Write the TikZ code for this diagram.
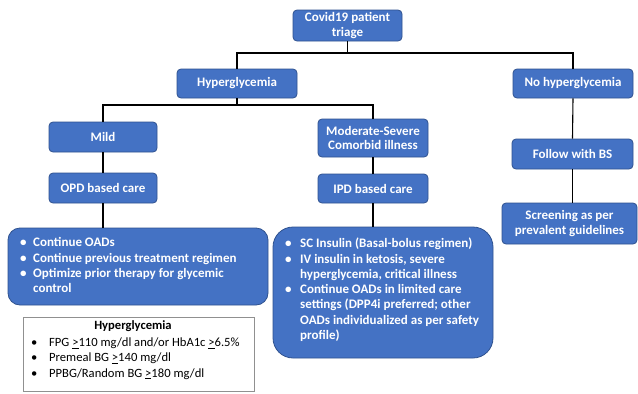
\documentclass[tikz,border=0pt]{standalone}
\usepackage{fontspec}
\setmainfont{Carlito}[BoldFont={Carlito Bold}]
\definecolor{boxblue}{HTML}{4472C4}
\definecolor{boxedge}{HTML}{2F528F}
\definecolor{legedge}{HTML}{909090}
\newcommand\bitem[1]{\makebox[#1][l]{\textbullet}}
\newcommand\bcont[1]{\hspace*{#1}}
\newcommand\topstrut{\rule{0pt}{10pt}}
\begin{document}
\begin{tikzpicture}[x=1pt,y=-1pt,
  box/.style={draw=boxedge, line width=0.8pt, fill=boxblue, rounded corners=4pt,
    text=white, font=\bfseries\fontsize{13}{14.5}\selectfont, align=center, inner sep=0pt},
  bigbox/.style={draw=boxedge, line width=0.8pt, fill=boxblue},
  conn/.style={draw=black, line width=1.1pt},
  btxt/.style={text=white, font=\bfseries\fontsize{13}{15.3}\selectfont, align=left, inner sep=0pt, anchor=north west},
  ltxt/.style={text=black, font=\fontsize{12.6}{15.2}\selectfont, align=left, inner sep=0pt, anchor=north west}]
\useasboundingbox[fill=white] (0,0) rectangle (638,394);

% top level
\node[box, minimum width=109pt, minimum height=31pt] (covid) at (347.5,25.5) {Covid19 patient\\triage};
\node[box, minimum width=120pt, minimum height=29pt] (hyper) at (237,83.5) {Hyperglycemia};
\node[box, minimum width=120pt, minimum height=29pt] (nohyper) at (573,83.5) {No hyperglycemia};

% second level
\node[box, minimum width=108pt, minimum height=30pt] (mild) at (103,137) {Mild};
\node[box, minimum width=108pt, minimum height=30pt] (opd) at (103,188) {OPD based care};
\node[box, minimum width=110pt, minimum height=38pt] (modsev) at (373,138) {Moderate-Severe\\Comorbid illness};
\node[box, minimum width=110pt, minimum height=29pt] (ipd) at (373,188.5) {IPD based care};
\node[box, minimum width=121pt, minimum height=30pt] (follow) at (572.5,154) {Follow with BS};
\node[box, minimum width=135pt, minimum height=41pt] (screen) at (569.5,223.5) {Screening as per\\prevalent guidelines};

% big boxes
\node[bigbox, rounded corners=12pt, minimum width=260pt, minimum height=77pt, inner sep=0pt] (leftbig) at (138,266.5) {};
\node[bigbox, rounded corners=20pt, minimum width=220pt, minimum height=131pt, inner sep=0pt] (rightbig) at (383,292.5) {};
\node[btxt] (lefttxt) at (20,236.5) {\topstrut\bitem{13pt}Continue OADs\\
\bitem{13pt}Continue previous treatment regimen\\
\bitem{13pt}Optimize prior therapy for glycemic\\
\bcont{13pt}control};
\node[btxt] (righttxt) at (285,237.5) {\topstrut\bitem{15pt}SC Insulin (Basal-bolus regimen)\\
\bitem{15pt}IV insulin in ketosis, severe\\
\bcont{15pt}hyperglycemia, critical illness\\
\bitem{15pt}Continue OADs in limited care\\
\bcont{15pt}settings (DPP4i preferred; other\\
\bcont{15pt}OADs individualized as per safety\\
\bcont{15pt}profile)};

% legend
\node[draw=legedge, line width=0.8pt, fill=white, minimum width=231pt, minimum height=74pt, inner sep=0pt] (legend) at (138.5,354) {};
\node[font=\bfseries\fontsize{12.6}{14}\selectfont, anchor=base, inner sep=0pt] (legtitle) at (133,329.5) {Hyperglycemia};
\node[ltxt] (legtxt) at (31,336.5) {\topstrut\bitem{18pt}FPG \underline{>}110 mg/dl and/or HbA1c \underline{>}6.5\%\\
\bitem{18pt}Premeal BG \underline{>}140 mg/dl\\
\bitem{18pt}PPBG/Random BG \underline{>}180 mg/dl};

% connectors
\coordinate (j1) at (347.5,53);
\coordinate (j2) at (237,105);
\draw[conn] (covid.south) -- (j1);
\draw[conn] (hyper.north) -- (hyper.north |- j1) -- (nohyper.north |- j1) -- (nohyper.north);
\draw[conn] (hyper.south) -- (j2);
\draw[conn] (mild.north) -- (mild.north |- j2) -- (modsev.north |- j2) -- (modsev.north);
\draw[conn] (mild.south) -- (opd.north);
\draw[conn] (opd.south) -- (opd.south |- leftbig.north);
\draw[conn] (modsev.south) -- (ipd.north);
\draw[conn] (ipd.south) -- (ipd.south |- rightbig.north);
\draw[conn] (nohyper.south) -- (follow.north);
\draw[conn] (follow.south) -- (follow.south |- screen.north);
\end{tikzpicture}
\end{document}
